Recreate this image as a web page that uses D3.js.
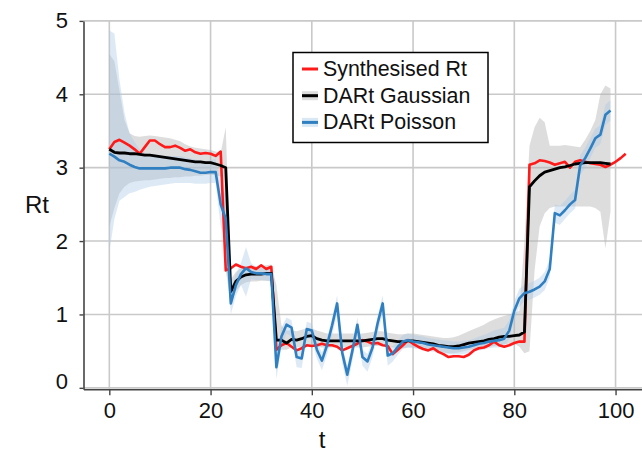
<!DOCTYPE html>
<html><head><meta charset="utf-8">
<script src="https://cdn.jsdelivr.net/npm/d3@7"></script>
<style>html,body{margin:0;padding:0;background:#fff;} svg{display:block;font-family:"Liberation Sans",Arial,sans-serif;}</style>
</head><body><svg id="c" width="642" height="456"></svg>
<script>
// ---- data (t = index, one value per day) ----
const synthRt = [3.25,3.35,3.38,3.34,3.30,3.25,3.19,3.28,3.37,3.37,3.32,3.28,3.28,3.30,3.27,3.23,3.25,3.21,3.19,3.20,3.19,3.16,3.22,
1.60,1.63,1.68,1.65,1.63,1.65,1.62,1.67,1.62,1.65,
0.52,0.58,0.61,0.56,0.51,0.54,0.58,0.57,0.58,0.60,0.58,0.58,0.56,0.51,0.54,0.57,0.60,0.65,0.63,0.60,0.61,0.58,0.57,0.46,0.52,0.58,0.65,0.60,
0.56,0.53,0.51,0.54,0.49,0.46,0.42,0.43,0.43,0.42,0.45,0.51,0.54,0.55,0.58,0.63,0.58,0.56,0.58,0.61,0.63,0.63,
3.04,3.06,3.10,3.09,3.07,3.04,3.06,3.08,3.00,3.08,3.10,3.08,3.06,3.05,3.04,3.01,3.04,3.08,3.13,3.19];
const gaussMean = [3.25,3.21,3.20,3.20,3.19,3.19,3.18,3.17,3.17,3.16,3.15,3.14,3.13,3.12,3.11,3.10,3.09,3.08,3.08,3.07,3.07,3.05,3.03,3.00,
1.31,1.45,1.51,1.54,1.55,1.55,1.55,1.56,1.56,
0.65,0.65,0.61,0.66,0.65,0.67,0.70,0.71,0.67,0.65,0.64,0.64,0.64,0.64,0.64,0.64,0.64,0.64,0.65,0.66,0.67,0.67,0.65,0.64,0.63,0.63,0.64,0.64,
0.63,0.62,0.61,0.60,0.58,0.57,0.56,0.56,0.57,0.59,0.61,0.62,0.63,0.64,0.66,0.67,0.69,0.70,0.70,0.71,0.72,0.76,
2.74,2.82,2.89,2.94,2.96,2.98,3.00,3.01,3.03,3.05,3.06,3.07,3.07,3.07,3.07,3.06,3.05];
const gaussLo = [2.20,2.45,2.65,2.74,2.79,2.81,2.82,2.83,2.83,2.84,2.85,2.86,2.86,2.87,2.87,2.88,2.88,2.89,2.89,2.90,2.90,2.90,2.88,1.60,
1.15,1.32,1.40,1.44,1.45,1.45,1.46,1.46,1.45,
0.50,0.52,0.52,0.55,0.55,0.56,0.58,0.58,0.56,0.55,0.55,0.55,0.55,0.55,0.55,0.55,0.55,0.55,0.56,0.57,0.57,0.57,0.56,0.55,0.54,0.54,0.55,0.55,
0.54,0.53,0.52,0.51,0.49,0.48,0.47,0.47,0.48,0.50,0.52,0.53,0.54,0.55,0.56,0.57,0.58,0.59,0.60,0.60,0.56,0.47,
0.50,1.60,2.20,2.38,2.45,2.47,2.47,2.47,2.47,2.47,2.47,2.47,2.47,2.45,2.40,1.90,2.40];
const gaussHi = [4.55,4.45,4.05,3.65,3.47,3.43,3.42,3.43,3.44,3.43,3.42,3.41,3.40,3.38,3.36,3.32,3.29,3.27,3.26,3.25,3.24,3.22,3.20,3.55,
1.48,1.58,1.63,1.65,1.66,1.66,1.66,1.67,1.68,
1.40,0.85,0.78,0.78,0.77,0.79,0.81,0.81,0.78,0.76,0.74,0.74,0.74,0.74,0.74,0.74,0.74,0.74,0.75,0.76,0.77,0.77,0.75,0.74,0.73,0.73,0.74,0.74,
0.73,0.72,0.71,0.70,0.69,0.68,0.68,0.69,0.71,0.74,0.77,0.80,0.83,0.86,0.90,0.93,0.96,0.98,1.00,1.02,1.05,2.00,
3.30,3.55,3.68,3.62,3.30,3.30,3.30,3.31,3.30,3.29,3.28,3.38,3.50,3.65,4.00,4.12,4.08];
const poisMean = [3.19,3.15,3.10,3.08,3.04,3.01,2.99,2.99,2.99,2.99,2.99,2.99,3.00,3.00,3.00,2.98,2.97,2.95,2.93,2.93,2.94,2.94,2.50,2.30,
1.15,1.40,1.55,1.63,1.58,1.56,1.56,1.55,1.55,
0.28,0.70,0.86,0.82,0.42,0.40,0.80,0.78,0.52,0.37,0.58,0.85,1.15,0.48,0.18,0.50,0.86,0.42,0.36,0.55,0.88,1.15,0.44,0.47,0.56,0.63,0.65,0.63,
0.62,0.61,0.59,0.58,0.57,0.56,0.55,0.54,0.54,0.55,0.56,0.58,0.60,0.61,0.63,0.64,0.65,0.67,0.78,1.05,1.22,1.29,
1.31,1.34,1.38,1.45,1.62,2.38,2.35,2.42,2.50,2.56,3.03,3.13,3.26,3.40,3.45,3.72,3.78];
const poisLo = [1.85,2.30,2.55,2.60,2.65,2.67,2.70,2.72,2.74,2.75,2.76,2.77,2.78,2.79,2.79,2.79,2.79,2.78,2.78,2.78,2.79,2.79,2.20,2.00,
1.00,1.25,1.40,1.24,1.48,1.47,1.47,1.46,1.46,
0.12,0.56,0.74,0.70,0.28,0.27,0.68,0.66,0.40,0.24,0.45,0.72,1.00,0.34,0.03,0.36,0.74,0.30,0.22,0.42,0.75,1.00,0.30,0.36,0.45,0.53,0.55,0.54,
0.53,0.52,0.50,0.49,0.48,0.47,0.46,0.45,0.45,0.46,0.47,0.49,0.51,0.52,0.54,0.55,0.55,0.56,0.66,0.93,1.10,1.18,
1.20,1.23,1.27,1.33,1.50,2.25,2.22,2.30,2.38,2.44,2.90,3.00,3.13,3.27,3.32,3.58,3.64];
const poisHi = [4.87,4.83,4.20,3.75,3.47,3.35,3.25,3.20,3.18,3.17,3.16,3.16,3.16,3.16,3.16,3.14,3.13,3.11,3.09,3.09,3.10,3.12,2.78,2.62,
1.35,1.55,1.70,1.92,1.70,1.65,1.65,1.64,1.64,
0.45,0.82,0.96,0.92,0.53,0.51,0.90,0.88,0.62,0.48,0.68,0.95,1.26,0.58,0.30,0.60,0.96,0.52,0.46,0.65,0.98,1.26,0.55,0.57,0.65,0.72,0.74,0.72,
0.71,0.70,0.68,0.67,0.66,0.65,0.64,0.63,0.63,0.64,0.65,0.67,0.70,0.72,0.75,0.78,0.80,0.82,0.92,1.18,1.35,1.40,
1.43,1.46,1.50,1.58,1.75,2.50,2.48,2.55,2.63,2.70,3.17,3.27,3.40,3.53,3.58,3.86,3.92];
const xTicks = [0,20,40,60,80,100];
const yTicks = [0,1,2,3,4,5];
const seriesNames = ["Synthesised Rt","DARt Gaussian","DARt Poisson"];

// ---- drawing ----
const svg = d3.select("#c");
const x = d3.scaleLinear().domain([-5.1,107.1]).range([83.5,651.5]);
const y = d3.scaleLinear().domain([-0.02,5]).range([389.3,20.9]);

const red = "#ff1a1a", black = "#000000", blue = "#2f7fc1";
const grayFill = "#b4b4b4", blueFill = "#a9cbe8";

// grid
const grid = svg.append("g");
grid.selectAll(".gx").data(xTicks).join("line")
  .attr("x1", d=>x(d)).attr("x2", d=>x(d)).attr("y1", y(5)).attr("y2", y(-0.02))
  .attr("stroke","#c9c9c9").attr("stroke-width",1.6);
grid.selectAll(".gy").data(yTicks).join("line")
  .attr("x1", x(-5.1)).attr("x2", 642).attr("y1", d=>y(d)).attr("y2", d=>y(d))
  .attr("stroke","#c9c9c9").attr("stroke-width",1.6);

// bands
const band = (lo,hi) => d3.area().x((d,i)=>x(i)).y0((d,i)=>y(lo[i])).y1((d,i)=>y(hi[i]));
svg.append("path").attr("d", band(gaussLo,gaussHi)(gaussLo))
  .attr("fill",grayFill).attr("fill-opacity",0.45);
svg.append("path").attr("d", band(poisLo,poisHi)(poisLo))
  .attr("fill",blueFill).attr("fill-opacity",0.4);

// lines
const line = d3.line().x((d,i)=>x(i)).y(d=>y(d));
const drawLine = (arr,col,w) => svg.append("path").attr("d", line(arr))
  .attr("fill","none").attr("stroke",col).attr("stroke-width",w).attr("stroke-linejoin","round");
drawLine(synthRt, red, 2.6);
drawLine(gaussMean, black, 2.8);
drawLine(poisMean, blue, 2.6);

// axes
const axisColor = "#444";
const gx = svg.append("g").attr("transform",`translate(0,${y(-0.02)})`)
  .call(d3.axisBottom(x).tickValues(xTicks).tickFormat(d3.format("d")).tickSize(6).tickSizeOuter(0).tickPadding(7));
const gy = svg.append("g").attr("transform",`translate(${x(-5.1)},0)`)
  .call(d3.axisLeft(y).tickValues(yTicks).tickFormat(d3.format("d")).tickSize(4).tickSizeOuter(0).tickPadding(11.5));
[gx,gy].forEach(g=>{
  g.select(".domain").attr("stroke",axisColor).attr("stroke-width",1.6);
  g.selectAll(".tick line").attr("stroke",axisColor).attr("stroke-width",1.4);
  g.selectAll(".tick text").attr("fill","#111").style("font-size","22px")
    .style("font-family","'Liberation Sans',Arial,sans-serif");
});
gy.selectAll(".tick text").filter(d=>d===0).attr("dy","0.05em");

// axis labels
svg.append("text").attr("x",37).attr("y",213).attr("text-anchor","middle")
  .style("font-size","24px").attr("fill","#111").text("Rt");
svg.append("text").attr("x",322).attr("y",448).attr("text-anchor","middle")
  .style("font-size","24px").attr("fill","#111").text("t");

// legend
const lg = svg.append("g");
lg.append("rect").attr("x",293).attr("y",52.5).attr("width",195).attr("height",90)
  .attr("fill","#fff").attr("stroke","#000").attr("stroke-width",1.5);
const legendItems = [
  {name:seriesNames[0], col:red, fill:null},
  {name:seriesNames[1], col:black, fill:grayFill},
  {name:seriesNames[2], col:blue, fill:blueFill}
];
legendItems.forEach((it,i)=>{
  const by = 76 + i*26.7;
  const my = by - 7;
  if (it.fill) lg.append("rect").attr("x",302).attr("y",my-4.5).attr("width",16).attr("height",9)
      .attr("fill",it.fill).attr("fill-opacity",0.45);
  lg.append("line").attr("x1",302).attr("x2",318).attr("y1",my).attr("y2",my)
    .attr("stroke",it.col).attr("stroke-width",3);
  lg.append("text").attr("x",323).attr("y",by).style("font-size","21.4px").attr("fill","#111").text(it.name);
});
</script></body></html>
